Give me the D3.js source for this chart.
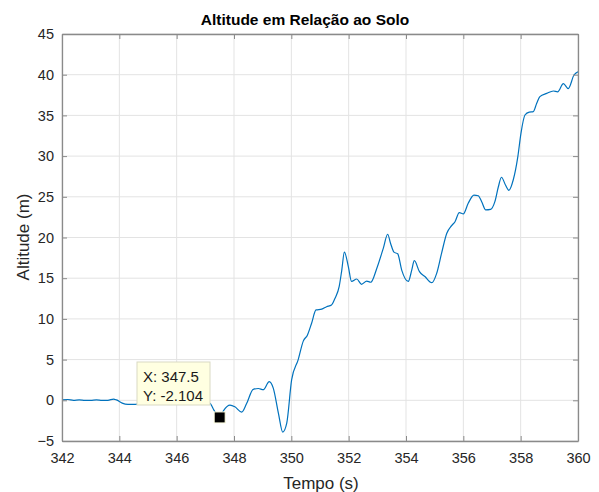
<!DOCTYPE html>
<html>
<head>
<meta charset="utf-8">
<script src="https://cdn.jsdelivr.net/npm/d3@7"></script>
<style>
  html, body { margin: 0; padding: 0; background: #ffffff; }
  svg { display: block; }
</style>
</head>
<body>
<svg id="chart" width="599" height="492"></svg>
<script>
// ---- data ----
const timeS = [342.0, 342.2, 342.4, 342.6, 342.8, 343.0, 343.2, 343.4, 343.6, 343.8, 343.9, 344.1, 344.3, 344.5, 344.7,
  345.0, 345.5, 346.0, 346.5, 347.0, 347.16, 347.3, 347.5, 347.63, 347.86, 348.03, 348.27, 348.44, 348.67, 348.85,
  349.02, 349.23, 349.37, 349.55, 349.70, 349.84, 350.01, 350.24, 350.42, 350.56, 350.71, 350.86, 351.06, 351.23,
  351.4, 351.52, 351.67, 351.76, 351.85, 351.99, 352.1, 352.28, 352.45, 352.63, 352.77, 352.98, 353.21, 353.36,
  353.46, 353.58, 353.71, 353.85, 354.08, 354.2, 354.29, 354.47, 354.66, 354.9, 355.07, 355.24, 355.42, 355.59,
  355.71, 355.86, 356.0, 356.17, 356.37, 356.52, 356.64, 356.78, 356.95, 357.1, 357.22, 357.33, 357.47, 357.59,
  357.74, 357.9, 358.01, 358.15, 358.3, 358.44, 358.56, 358.67, 358.91, 359.14, 359.29, 359.49, 359.66, 359.86, 360.0];
const altitudeM = [0.05, 0.1, 0.0, 0.05, 0.0, 0.0, 0.05, 0.0, 0.0, 0.15, 0.05, -0.35, -0.5, -0.5, -0.45,
  -0.4, -0.35, -0.3, -0.3, -0.3, -0.37, -1.2, -2.104, -1.3, -0.6, -0.8, -1.45, -0.4, 1.35, 1.45,
  1.3, 2.3, 1.5, -1.6, -3.9, -2.8, 2.5, 5.0, 7.3, 8.0, 9.5, 11.1, 11.2, 11.5,
  11.7, 12.5, 14.0, 16.0, 18.2, 16.4, 14.6, 14.9, 14.25, 14.65, 14.5, 16.2, 18.7, 20.4,
  19.3, 18.2, 18.0, 16.0, 14.6, 16.0, 17.15, 15.8, 15.2, 14.45, 15.6, 18.05, 20.5, 21.45,
  21.94, 23.05, 22.9, 24.2, 25.2, 25.13, 24.4, 23.4, 23.46, 24.4, 26.2, 27.4, 26.45, 25.8,
  27.06, 29.9, 32.8, 35.05, 35.4, 35.46, 36.5, 37.3, 37.7, 38.0, 37.9, 38.9, 38.3, 39.96, 40.37];
const xTicks = [342, 344, 346, 348, 350, 352, 354, 356, 358, 360];
const yTicks = [-5, 0, 5, 10, 15, 20, 25, 30, 35, 40, 45];
const tipX = [347.5];
const tipY = [-2.104];
const titleText = "Altitude em Relação ao Solo";
const xLabel = "Tempo (s)";
const yLabel = "Altitude (m)";

// ---- layout ----
const svg = d3.select("#chart");
const L = 62, R = 578, T = 34, B = 441;
const x = d3.scaleLinear().domain([342, 360]).range([L, R]);
const y = d3.scaleLinear().domain([-5, 45]).range([B, T]);
const font = "'Liberation Sans', Arial, Helvetica, sans-serif";
const axisColor = "#8a8a8a";

// grid
const grid = svg.append("g");
grid.selectAll("line.gx").data(xTicks).join("line")
  .attr("x1", d => x(d)).attr("x2", d => x(d)).attr("y1", T).attr("y2", B)
  .attr("stroke", "#e3e3e3").attr("stroke-width", 1);
grid.selectAll("line.gy").data(yTicks).join("line")
  .attr("y1", d => y(d)).attr("y2", d => y(d)).attr("x1", L).attr("x2", R)
  .attr("stroke", "#e3e3e3").attr("stroke-width", 1);

// line
const line = d3.line().x((d, i) => x(timeS[i])).y(d => y(d)).curve(d3.curveMonotoneX);
svg.append("path").datum(altitudeM)
  .attr("d", line).attr("fill", "none")
  .attr("stroke", "#0072BD").attr("stroke-width", 1.2);

// axes
function styleAxis(g, showText) {
  g.select(".domain").attr("stroke", axisColor).attr("stroke-width", 1.3);
  g.selectAll(".tick line").attr("stroke", axisColor).attr("stroke-width", 1);
  g.selectAll(".tick text").attr("fill", "#262626")
    .style("font-family", font).style("font-size", "14.5px");
  if (!showText) g.selectAll(".tick text").remove();
}
svg.append("g").attr("transform", `translate(0,${B})`)
  .call(d3.axisBottom(x).tickValues(xTicks).tickSize(-5).tickPadding(12).tickSizeOuter(0))
  .call(g => styleAxis(g, true));
svg.append("g").attr("transform", `translate(0,${T})`)
  .call(d3.axisTop(x).tickValues(xTicks).tickSize(-5).tickSizeOuter(0))
  .call(g => styleAxis(g, false));
svg.append("g").attr("transform", `translate(${L},0)`)
  .call(d3.axisLeft(y).tickValues(yTicks).tickSize(-5).tickPadding(8).tickSizeOuter(0))
  .call(g => styleAxis(g, true));
svg.append("g").attr("transform", `translate(${R},0)`)
  .call(d3.axisRight(y).tickValues(yTicks).tickSize(-5).tickSizeOuter(0))
  .call(g => styleAxis(g, false));

// title & labels
svg.append("text").attr("x", 305).attr("y", 25).attr("text-anchor", "middle")
  .style("font-family", font).style("font-size", "15.5px").style("font-weight", "bold")
  .attr("fill", "#000").text(titleText);
svg.append("text").attr("x", 321).attr("y", 489).attr("text-anchor", "middle")
  .style("font-family", font).style("font-size", "17px")
  .attr("fill", "#262626").text(xLabel);
svg.append("text").attr("transform", "translate(29,237) rotate(-90)").attr("text-anchor", "middle")
  .style("font-family", font).style("font-size", "17px")
  .attr("fill", "#262626").text(yLabel);

// data tip
const tip = svg.append("g");
tip.append("rect").attr("x", 137).attr("y", 362).attr("width", 73).attr("height", 43)
  .attr("fill", "#ffffe1").attr("stroke", "#d9d9c4").attr("stroke-width", 1);
tip.append("text").attr("x", 143).attr("y", 382)
  .style("font-family", font).style("font-size", "15px").attr("fill", "#1a1a1a")
  .text("X: " + tipX[0]);
tip.append("text").attr("x", 143).attr("y", 401)
  .style("font-family", font).style("font-size", "15px").attr("fill", "#1a1a1a")
  .text("Y: " + tipY[0]);
tip.selectAll("rect.marker").data(tipX).join("rect").attr("class", "marker")
  .attr("x", d => x(d) - 5.5).attr("y", (d, i) => y(tipY[i]) - 5.5)
  .attr("width", 11).attr("height", 11)
  .attr("fill", "#000").attr("stroke", "#ffffe1").attr("stroke-width", 1);
</script>
</body>
</html>
